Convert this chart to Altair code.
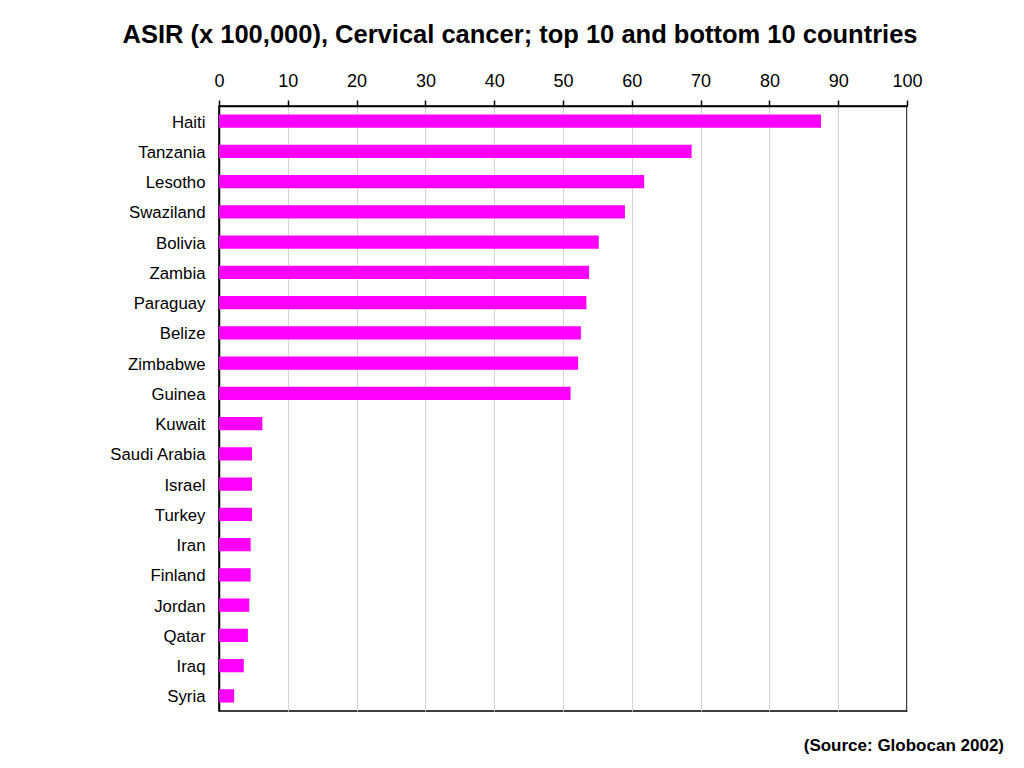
import altair as alt
import pandas as pd

countries = ["Haiti", "Tanzania", "Lesotho", "Swaziland", "Bolivia", "Zambia",
             "Paraguay", "Belize", "Zimbabwe", "Guinea", "Kuwait", "Saudi Arabia",
             "Israel", "Turkey", "Iran", "Finland", "Jordan", "Qatar", "Iraq", "Syria"]
asir = [87.5, 68.7, 61.8, 59.0, 55.2, 53.8, 53.4, 52.6, 52.2, 51.1,
        6.3, 4.8, 4.8, 4.8, 4.6, 4.6, 4.4, 4.2, 3.6, 2.2]
title_text = "ASIR (x 100,000), Cervical cancer; top 10 and bottom 10 countries"
source_text = "(Source: Globocan 2002)"

df = pd.DataFrame({"country": countries, "asir": asir})
FONT = "Arial, Liberation Sans, sans-serif"

bars = alt.Chart(df).mark_bar(color="#FF00FF").encode(
    x=alt.X("asir:Q", scale=alt.Scale(domain=[0, 100], nice=False),
            axis=alt.Axis(orient="top", values=list(range(0, 101, 10)), title=None,
                          grid=True, gridColor="#d4d4d4", gridWidth=1,
                          domainColor="black", domainWidth=1.5,
                          tickColor="black", tickSize=6, tickWidth=1.5,
                          labelFontSize=18, labelColor="black", labelPadding=10,
                          labelFont=FONT, labelFlush=False)),
    y=alt.Y("country:N", sort=countries, scale=alt.Scale(paddingInner=0.56, paddingOuter=0.28),
            axis=alt.Axis(title=None, ticks=False, domainColor="black", domainWidth=1.5,
                          labelFontSize=16.8, labelColor="black", labelPadding=14,
                          labelFont=FONT, grid=False, labelBaseline="middle", labelOffset=1.5)),
)

source = alt.Chart(pd.DataFrame({"t": [source_text]})).mark_text(
    font=FONT, fontSize=17, fontWeight="bold", align="right", baseline="middle", color="black"
).encode(text="t:N", x=alt.value(785), y=alt.value(640))

chart = alt.layer(bars, source).properties(
    width=688, height=605,
    autosize=alt.AutoSizeParams(type="none"),
    padding={"left": 211, "top": 98, "right": 100, "bottom": 50},
    title=alt.TitleParams(title_text, font=FONT, fontSize=25.5, fontWeight="bold",
                          color="black", anchor="middle", dx=-43, offset=24),
).configure_view(stroke="black", strokeWidth=1.5)

chart.save("out.html", embed_options={"renderer": "svg", "actions": False})
